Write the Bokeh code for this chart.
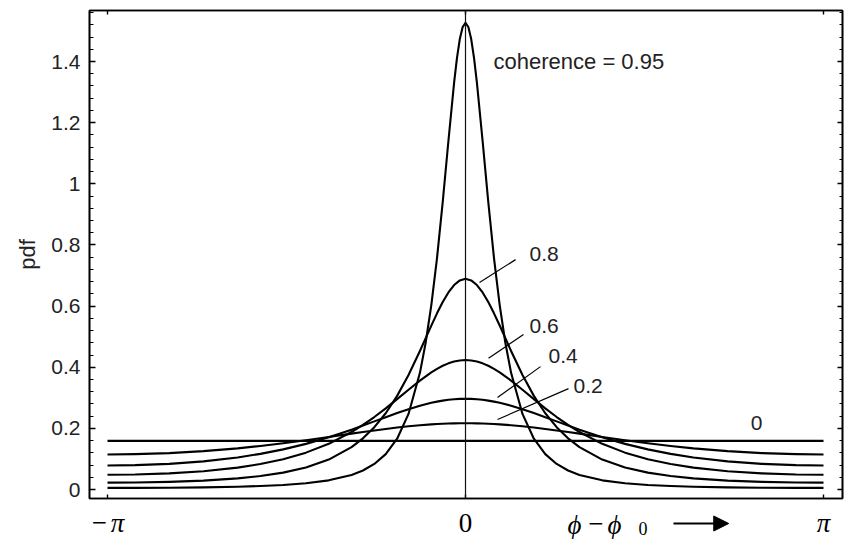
from bokeh.plotting import figure
from bokeh.layouts import column
from bokeh.models import Range1d, FixedTicker, LinearAxis, Label, Span, Arrow, NormalHead
from bokeh.core.properties import value
from bokeh.embed import file_html
from bokeh.resources import INLINE

# ---------------- data ----------------
phase = [-3.1416, -2.9, -2.6, -2.3, -2.0, -1.8, -1.6, -1.4, -1.2, -1.0, -0.9, -0.8, -0.7, -0.6,
         -0.5, -0.4, -0.3, -0.25, -0.2, -0.15, -0.1, -0.05, 0, 0.05, 0.1, 0.15, 0.2, 0.25, 0.3,
         0.4, 0.5, 0.6, 0.7, 0.8, 0.9, 1.0, 1.2, 1.4, 1.6, 1.8, 2.0, 2.3, 2.6, 2.9, 3.1416]

pdf_02 = [0.1147, 0.1156, 0.1191, 0.1255, 0.1347, 0.1425, 0.1514, 0.1613, 0.1719, 0.1828, 0.1882,
          0.1933, 0.1982, 0.2027, 0.2068, 0.2102, 0.2130, 0.2141, 0.2151, 0.2158, 0.2163, 0.2166,
          0.2167, 0.2166, 0.2163, 0.2158, 0.2151, 0.2141, 0.2130, 0.2102, 0.2068, 0.2027, 0.1982,
          0.1933, 0.1882, 0.1828, 0.1719, 0.1613, 0.1514, 0.1425, 0.1347, 0.1255, 0.1191, 0.1156,
          0.1147]

pdf_04 = [0.0786, 0.0797, 0.0840, 0.0921, 0.1049, 0.1166, 0.1313, 0.1493, 0.1709, 0.1958, 0.2092,
          0.2229, 0.2367, 0.2501, 0.2628, 0.2741, 0.2836, 0.2875, 0.2908, 0.2934, 0.2953, 0.2965,
          0.2969, 0.2965, 0.2953, 0.2934, 0.2908, 0.2875, 0.2836, 0.2741, 0.2628, 0.2501, 0.2367,
          0.2229, 0.2092, 0.1958, 0.1709, 0.1493, 0.1313, 0.1166, 0.1049, 0.0921, 0.0840, 0.0797,
          0.0786]

pdf_06 = [0.0485, 0.0493, 0.0529, 0.0599, 0.0717, 0.0833, 0.0991, 0.1206, 0.1495, 0.1880, 0.2112,
          0.2371, 0.2655, 0.2956, 0.3265, 0.3563, 0.3832, 0.3947, 0.4047, 0.4127, 0.4186, 0.4222,
          0.4235, 0.4222, 0.4186, 0.4127, 0.4047, 0.3947, 0.3832, 0.3563, 0.3265, 0.2956, 0.2655,
          0.2371, 0.2112, 0.1880, 0.1495, 0.1206, 0.0991, 0.0833, 0.0717, 0.0599, 0.0529, 0.0493,
          0.0485]

pdf_08 = [0.0226, 0.0231, 0.0251, 0.0292, 0.0364, 0.0441, 0.0553, 0.0721, 0.0979, 0.1386, 0.1674,
          0.2038, 0.2495, 0.3063, 0.3747, 0.4532, 0.5363, 0.5763, 0.6131, 0.6446, 0.6688, 0.6840,
          0.6893, 0.6840, 0.6688, 0.6446, 0.6131, 0.5763, 0.5363, 0.4532, 0.3747, 0.3063, 0.2495,
          0.2038, 0.1674, 0.1386, 0.0979, 0.0721, 0.0553, 0.0441, 0.0364, 0.0292, 0.0251, 0.0231,
          0.0226]

phase_95 = [-3.1416, -2.9, -2.6, -2.3, -2.0, -1.8, -1.6, -1.4, -1.2, -1.0, -0.9, -0.8, -0.7, -0.6,
            -0.5, -0.4, -0.35, -0.3, -0.25, -0.2, -0.15, -0.1, -0.075, -0.05, -0.025, 0, 0.025,
            0.05, 0.075, 0.1, 0.15, 0.2, 0.25, 0.3, 0.35, 0.4, 0.5, 0.6, 0.7, 0.8, 0.9, 1.0, 1.2,
            1.4, 1.6, 1.8, 2.0, 2.3, 2.6, 2.9, 3.1416]

pdf_095 = [0.0054, 0.0055, 0.0060, 0.0071, 0.0092, 0.0114, 0.0149, 0.0205, 0.0300, 0.0477, 0.0622,
           0.0836, 0.1158, 0.1661, 0.2473, 0.3817, 0.4792, 0.6032, 0.7572, 0.9400, 1.1401, 1.3312,
           1.4113, 1.4735, 1.5130, 1.5267, 1.5130, 1.4735, 1.4113, 1.3312, 1.1401, 0.9400, 0.7572,
           0.6032, 0.4792, 0.3817, 0.2473, 0.1661, 0.1158, 0.0836, 0.0622, 0.0477, 0.0300, 0.0205,
           0.0149, 0.0114, 0.0092, 0.0071, 0.0060, 0.0055, 0.0054]

phase_flat = [-3.1416, 3.1416]
pdf_flat = [0.1592, 0.1592]

y_ticks = [0, 0.2, 0.4, 0.6, 0.8, 1, 1.2, 1.4]
y_tick_labels = ["0", "0.2", "0.4", "0.6", "0.8", "1", "1.2", "1.4"]
x_ticks = [-3.14159265, 0, 3.14159265]
x_tick_labels = ["\u2212", "\u03c0", "0", "\u03c0"]   # "− π", "0", "π"

curve_labels = ["coherence = 0.95", "0.8", "0.6", "0.4", "0.2"]

# ---------------- figure ----------------
SANS = "Liberation Sans"
SERIF = "Liberation Serif"

xr = Range1d(-3.2996, 3.3083)

p = figure(width=844, height=500, output_backend="svg", toolbar_location=None,
           x_range=xr, y_range=Range1d(-0.0294, 1.5669),
           min_border_left=89, min_border_right=2, min_border_top=10, min_border_bottom=2)
p.grid.grid_line_color = None
p.outline_line_color = "black"
p.outline_line_width = 1.6
p.background_fill_color = "white"
p.border_fill_color = "white"

y_minor = [round(0.04 * i, 2) for i in range(40)]

ya = p.yaxis[0]
ya.ticker = FixedTicker(ticks=y_ticks, minor_ticks=y_minor)
ya.major_label_overrides = {t: s for t, s in zip(y_ticks, y_tick_labels)}
ya.major_tick_in = 6
ya.major_tick_out = 0
ya.minor_tick_in = 4
ya.minor_tick_out = 0
ya.axis_line_width = 1.6
ya.major_tick_line_width = 1.4
ya.minor_tick_line_width = 1.2
ya.major_label_standoff = 9
ya.major_label_text_font = SANS
ya.major_label_text_font_size = "21px"
ya.major_label_text_color = "#222222"
ya.axis_label = "pdf"
ya.axis_label_text_font = SANS
ya.axis_label_text_font_size = "22px"
ya.axis_label_text_font_style = "normal"
ya.axis_label_standoff = 8
ya.axis_label_text_color = "#222222"

xa = p.xaxis[0]
xa.ticker = FixedTicker(ticks=x_ticks, minor_ticks=[])
xa.major_tick_in = 4
xa.major_tick_out = 0
xa.minor_tick_in = 0
xa.minor_tick_out = 0
xa.axis_line_width = 1.6
xa.major_tick_line_width = 1.4
xa.major_label_text_color = None
xa.major_label_standoff = 0

ra = LinearAxis(ticker=FixedTicker(ticks=y_ticks, minor_ticks=y_minor),
                major_label_text_color=None, major_label_standoff=0,
                major_tick_in=5, major_tick_out=0, minor_tick_in=3, minor_tick_out=0,
                axis_line_width=1.6, major_tick_line_width=1.4, minor_tick_line_width=1.2)
p.add_layout(ra, "right")

ta = LinearAxis(ticker=FixedTicker(ticks=x_ticks, minor_ticks=[]),
                major_label_text_color=None, major_label_standoff=0,
                major_tick_in=4, major_tick_out=0, minor_tick_in=0, minor_tick_out=0,
                axis_line_width=1.6, major_tick_line_width=1.4)
p.add_layout(ta, "above")

# vertical line at 0
p.add_layout(Span(location=0, dimension="height", line_color="#111111", line_width=1.2))

# curves
for xs, ys in [(phase_flat, pdf_flat), (phase, pdf_02), (phase, pdf_04),
               (phase, pdf_06), (phase, pdf_08), (phase_95, pdf_095)]:
    p.line(xs, ys, line_color="black", line_width=2.1, line_join="round")

# leader lines for labels
p.segment(x0=[0.439, 0.509, 0.658, 0.904], y0=[0.752, 0.507, 0.402, 0.330],
          x1=[0.123, 0.202, 0.281, 0.281], y1=[0.677, 0.429, 0.301, 0.229],
          line_color="black", line_width=1.2)

# curve labels
lab_pos = [(0.246, 1.400, 22), (0.562, 0.772, 21), (0.562, 0.536, 21),
           (0.728, 0.438, 21), (0.948, 0.340, 21)]
for txt, (lx, ly, fs) in zip(curve_labels, lab_pos):
    p.add_layout(Label(x=lx, y=ly, text=txt, text_font=SANS, text_font_size=f"{fs}px",
                       text_align="left", text_baseline="middle", text_color="#222222"))
p.add_layout(Label(x=2.554, y=0.219, text="0", text_font=SANS, text_font_size="21px",
                   text_align="center", text_baseline="middle", text_color="#222222"))

# ---------------- strip below the frame: x tick labels and axis caption ----------------
# (its frame is aligned with the main frame by the column layout, so it shares the x range)
s = figure(width=844, height=39, output_backend="svg", toolbar_location=None,
           x_range=xr, y_range=Range1d(0, 39),
           min_border_left=89, min_border_right=2, min_border_top=0, min_border_bottom=0,
           x_axis_location=None, y_axis_location=None)
s.grid.grid_line_color = None
s.outline_line_color = None
s.background_fill_color = "white"
s.border_fill_color = "white"

# minus signs (wide, upright); the left one kept inside the frame so it is not clipped
s.text(x=[-3.212, 1.145], y=[18, 17], text=[x_tick_labels[0], "\u2212"],
       text_font=value("DejaVu Sans"), text_font_size="20px",
       text_align="center", text_baseline="middle", text_color="black")
# upright zero
s.text(x=[0.0], y=[17], text=[x_tick_labels[2]], text_font=value(SERIF),
       text_font_size="27px", text_align="center", text_baseline="middle", text_color="black")
# italic pi
s.text(x=[-3.054, 3.1416], y=[17, 17], text=[x_tick_labels[1], x_tick_labels[3]],
       text_font=value(SERIF), text_font_size="27px", text_font_style="italic",
       text_align="center", text_baseline="middle", text_color="black")
# phi - phi_0 caption
s.text(x=[0.895, 1.246], y=[15, 15], text=["\u03d5", "\u03d5"], text_font=value(SERIF),
       text_font_size="27px", text_font_style="italic", text_align="left",
       text_baseline="middle", text_color="black")
s.text(x=[1.518], y=[11], text=["0"], text_font=value(SERIF), text_font_size="18px",
       text_align="left", text_baseline="middle", text_color="black")
s.add_layout(Arrow(end=NormalHead(size=15, fill_color="black", line_color="black"),
                   x_start=1.825, y_start=16, x_end=2.31, y_end=16,
                   line_color="black", line_width=2))

layout = column(p, s, spacing=0)
open("out.html", "w").write(file_html(layout, INLINE))
